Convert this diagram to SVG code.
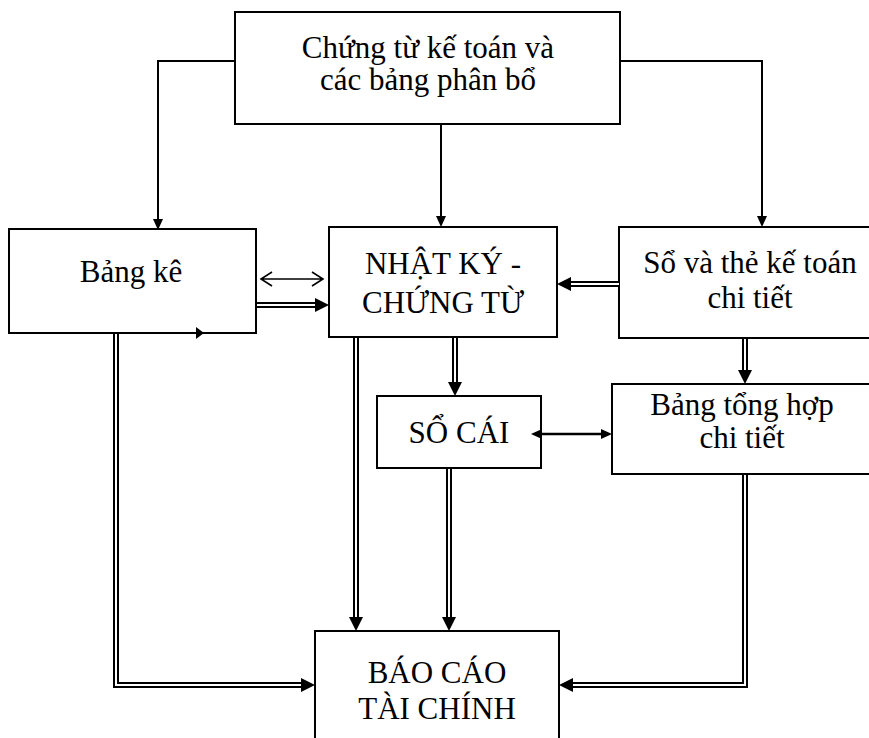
<svg xmlns="http://www.w3.org/2000/svg" width="869" height="738" viewBox="0 0 869 738">
<style>
.box{fill:#fff;stroke:#000;stroke-width:2}
.t{font-family:"Liberation Serif","Times New Roman",serif;font-size:31px;fill:#000;text-anchor:middle}
.ln{fill:none;stroke:#000;stroke-width:2}
.dbo{fill:none;stroke:#000;stroke-width:6;stroke-linejoin:miter}
.dbi{fill:none;stroke:#fff;stroke-width:2;stroke-linejoin:miter}
.open{fill:none;stroke:#000;stroke-width:1.6}
</style>
<defs>
<marker id="ah" markerUnits="userSpaceOnUse" markerWidth="11" markerHeight="10" viewBox="0 0 11 10" refX="0" refY="5" orient="auto">
<path d="M0,0 L11,5 L0,10 z" fill="#000"/>
</marker>
<marker id="ah2" markerUnits="userSpaceOnUse" markerWidth="11" markerHeight="10" viewBox="0 0 11 10" refX="0" refY="5" orient="auto-start-reverse">
<path d="M0,0 L11,5 L0,10 z" fill="#000"/>
</marker>
<marker id="dh" markerUnits="userSpaceOnUse" markerWidth="14" markerHeight="14" viewBox="0 0 14 14" refX="0" refY="7" orient="auto">
<path d="M0,0 L14,7 L0,14 z" fill="#000"/>
</marker>
</defs>

<g id="n-chungtu">
<rect class="box" x="235" y="12" width="385" height="112"/>
<text class="t" x="428" y="58">Chứng từ kế toán và</text>
<text class="t" x="428" y="90">các bảng phân bổ</text>
</g>
<g id="n-bangke">
<rect class="box" x="9" y="229" width="247" height="104"/>
<text class="t" x="131" y="282">Bảng kê</text>
</g>
<g id="n-nhatky">
<rect class="box" x="329" y="227" width="228" height="110"/>
<text class="t" x="443" y="274">NHẬT KÝ -</text>
<text class="t" x="443" y="313">CHỨNG TỪ</text>
</g>
<g id="n-sothe">
<rect class="box" x="619" y="227" width="260" height="111"/>
<text class="t" x="750" y="273">Sổ và thẻ kế toán</text>
<text class="t" x="750" y="308">chi tiết</text>
</g>
<g id="n-socai">
<rect class="box" x="377" y="396" width="164" height="72"/>
<text class="t" x="459" y="443">SỔ CÁI</text>
</g>
<g id="n-tonghop">
<rect class="box" x="612" y="384" width="267" height="90"/>
<text class="t" x="742" y="415">Bảng tổng hợp</text>
<text class="t" x="742" y="448">chi tiết</text>
</g>
<g id="n-baocao">
<rect class="box" x="315" y="631" width="244" height="120"/>
<text class="t" x="437" y="683">BÁO CÁO</text>
<text class="t" x="437" y="719">TÀI CHÍNH</text>
</g>

<g id="connectors">
<path class="ln" d="M235,61 H158 V219" marker-end="url(#ah)"/>
<path class="ln" d="M441,124 V216" marker-end="url(#ah)"/>
<path class="ln" d="M620,61 H762 V216" marker-end="url(#ah)"/>

<path class="open" d="M261,279 H323 M272,272 L261,279 L272,286 M312,272 L323,279 L312,286"/>

<path class="ln" d="M542,434 H601" marker-start="url(#ah2)" marker-end="url(#ah2)" style="stroke-width:2.5"/>
<path class="ln" d="M554,434 H600"/>

<path class="dbo" d="M257,305 H315" marker-end="url(#dh)"/>
<path class="dbi" d="M257,305 H315"/>

<path class="dbo" d="M619,284 H571" marker-end="url(#dh)"/>
<path class="dbi" d="M619,284 H571"/>

<path class="dbo" d="M455,338 V382" marker-end="url(#dh)"/>
<path class="dbi" d="M455,338 V382"/>

<path class="dbo" d="M745,339 V370" marker-end="url(#dh)"/>
<path class="dbi" d="M745,339 V370"/>

<path class="dbo" d="M116,334 V685 H301" marker-end="url(#dh)"/>
<path class="dbi" d="M116,334 V685 H301"/>

<path class="dbo" d="M356,338 V617" marker-end="url(#dh)"/>
<path class="dbi" d="M356,338 V617"/>

<path class="dbo" d="M449,469 V617" marker-end="url(#dh)"/>
<path class="dbi" d="M449,469 V617"/>

<path class="dbo" d="M745,475 V685 H573" marker-end="url(#dh)"/>
<path class="dbi" d="M745,475 V685 H573"/>

<path d="M196,327 L204,333 L196,339 z" fill="#000"/>
</g>
</svg>
